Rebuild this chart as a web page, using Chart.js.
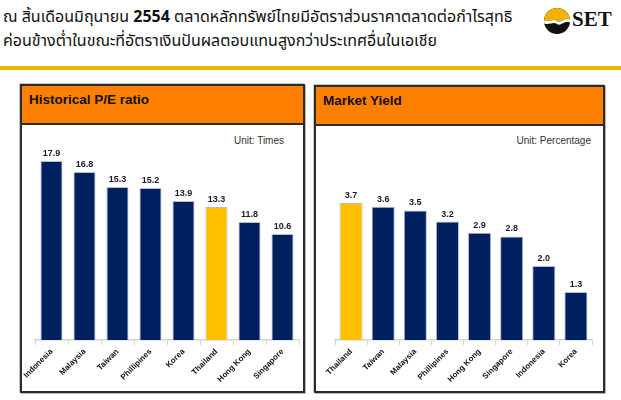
<!DOCTYPE html>
<html>
<head>
<meta charset="utf-8">
<script src="https://cdn.jsdelivr.net/npm/chart.js@4.4.1/dist/chart.umd.min.js"></script>
<style>
    body { margin: 0; width: 621px; height: 400px; background: #fff; position: relative; overflow: hidden; font-family: "Liberation Sans", Arial, sans-serif; }
    .head { position: absolute; left: 3px; top: 5px; font-size: 16px; line-height: 24px; color: #111; font-family: Tahoma, "Noto Sans Thai", "Liberation Sans", sans-serif; white-space: nowrap; }
    .rule { position: absolute; left: 0; top: 66px; width: 621px; height: 4px; background: #f0b400; }
    .panel { position: absolute; border: 2px solid #2b2b2b; box-shadow: 1px 1px 0 #b8b8b8, -1px -1px 0 #c8c8c8; background: #fff; }
    .panel .bar { height: 37px; background: #ff7f00; border-bottom: 2px solid #2b2b2b; font-weight: bold; font-size: 13.5px; line-height: 28px; padding-left: 7px; color: #111; }
    .unit { position: absolute; font-size: 10px; color: #333; text-align: right; }
    canvas { position: absolute; }
    .logo { position: absolute; left: 543px; top: 7px; }
    .logoText { position: absolute; left: 572px; top: 7px; font-family: "Liberation Serif", "DejaVu Serif", serif; font-weight: bold; font-size: 21px; color: #111; }
</style>
</head>
<body>
<div class="head">ณ สิ้นเดือนมิถุนายน <b>2554</b> ตลาดหลักทรัพย์ไทยมีอัตราส่วนราคาตลาดต่อกำไรสุทธิ<br>ค่อนข้างต่ำในขณะที่อัตราเงินปันผลตอบแทนสูงกว่าประเทศอื่นในเอเชีย</div>
<svg class="logo" width="28" height="28" viewBox="0 0 28 28">
    <clipPath id="c"><circle cx="14" cy="14" r="13"/></clipPath>
    <g clip-path="url(#c)">
        <rect x="0" y="0" width="28" height="28" fill="#111"/>
        <path d="M0 0 H28 V13 C22 9 18 17 14 14 C10 11 6 16 0 13 Z" fill="#f0b400"/>
        <path d="M0 13 C6 16 10 11 14 14 C18 17 22 9 28 13 V16 C22 12 18 20 14 17 C10 14 6 19 0 16 Z" fill="#fff"/>
    </g>
</svg>
<div class="logoText">SET</div>
<div class="rule"></div>

<div class="panel" style="left:20px; top:84px; width:281px; height:305px;"><div class="bar">Historical P/E ratio</div></div>
<div class="panel" style="left:314px; top:85px; width:287px; height:304px;"><div class="bar">Market Yield</div></div>

<div class="unit" style="left:184px; top:135px; width:100px;">Unit: Times</div>
<div class="unit" style="left:451px; top:135px; width:140px;">Unit: Percentage</div>

<canvas id="peChart" width="280" height="262" style="left:22px; top:126px;"></canvas>
<canvas id="yieldChart" width="286" height="262" style="left:316px; top:126px;"></canvas>

<script>
const peCountries = ["Indonesia", "Malaysia", "Taiwan", "Phillipines", "Korea", "Thailand", "Hong Kong", "Singapore"];
const peValues = [17.9, 16.8, 15.3, 15.2, 13.9, 13.3, 11.8, 10.6];

const yieldCountries = ["Thailand", "Taiwan", "Malaysia", "Phillipines", "Hong Kong", "Singapore", "Indonesia", "Korea"];
const yieldValues = [3.7, 3.6, 3.5, 3.2, 2.9, 2.8, 2.0, 1.3];

const NAVY = "#002060";
const GOLD = "#ffc000";

// values over each bar
const valueLabels = {
    id: "valueLabels",
    afterDatasetsDraw(chart) {
        const ctx = chart.ctx;
        const meta = chart.getDatasetMeta(0);
        ctx.save();
        ctx.font = "bold 9px 'Liberation Sans', Arial, sans-serif";
        ctx.fillStyle = "#1a1a2a";
        ctx.textAlign = "center";
        ctx.textBaseline = "bottom";
        meta.data.forEach((bar, i) => {
            const v = chart.data.datasets[0].data[i];
            ctx.fillText(v.toFixed(1), bar.x, bar.y - 3);
        });
        ctx.restore();
    }
};

function drawBars(canvasId, labels, values, yMax, pad, barPct) {
    const ctx = document.getElementById(canvasId).getContext("2d");
    return new Chart(ctx, {
        type: "bar",
        data: {
            labels,
            datasets: [{
                data: values,
                backgroundColor: labels.map(c => c === "Thailand" ? GOLD : NAVY),
                borderColor: "#b8bccb",
                borderWidth: 1,
                barPercentage: barPct,
                categoryPercentage: 1
            }]
        },
        options: {
            responsive: false,
            animation: false,
            layout: { padding: pad },
            plugins: { legend: { display: false }, tooltip: { enabled: false } },
            scales: {
                x: {
                    grid: { drawOnChartArea: false, drawTicks: true, tickLength: 5, color: "#d4d4d4" },
                    border: { color: "#d4d4d4", width: 1.5 },
                    ticks: {
                        autoSkip: false,
                        minRotation: 45,
                        maxRotation: 45,
                        padding: 2,
                        color: "#111",
                        font: { family: "'Liberation Sans', Arial, sans-serif", size: 8, weight: "bold" }
                    },
                    afterFit(scale) { scale.height = 48; }
                },
                y: { display: false, min: 0, max: yMax }
            }
        },
        plugins: [valueLabels]
    });
}

drawBars("peChart", peCountries, peValues, 20, { top: 14, left: 13, right: 3, bottom: 0 }, 0.67);
drawBars("yieldChart", yieldCountries, yieldValues, 5, { top: 29, left: 19, right: 10, bottom: 0 }, 0.72);
</script>
</body>
</html>
